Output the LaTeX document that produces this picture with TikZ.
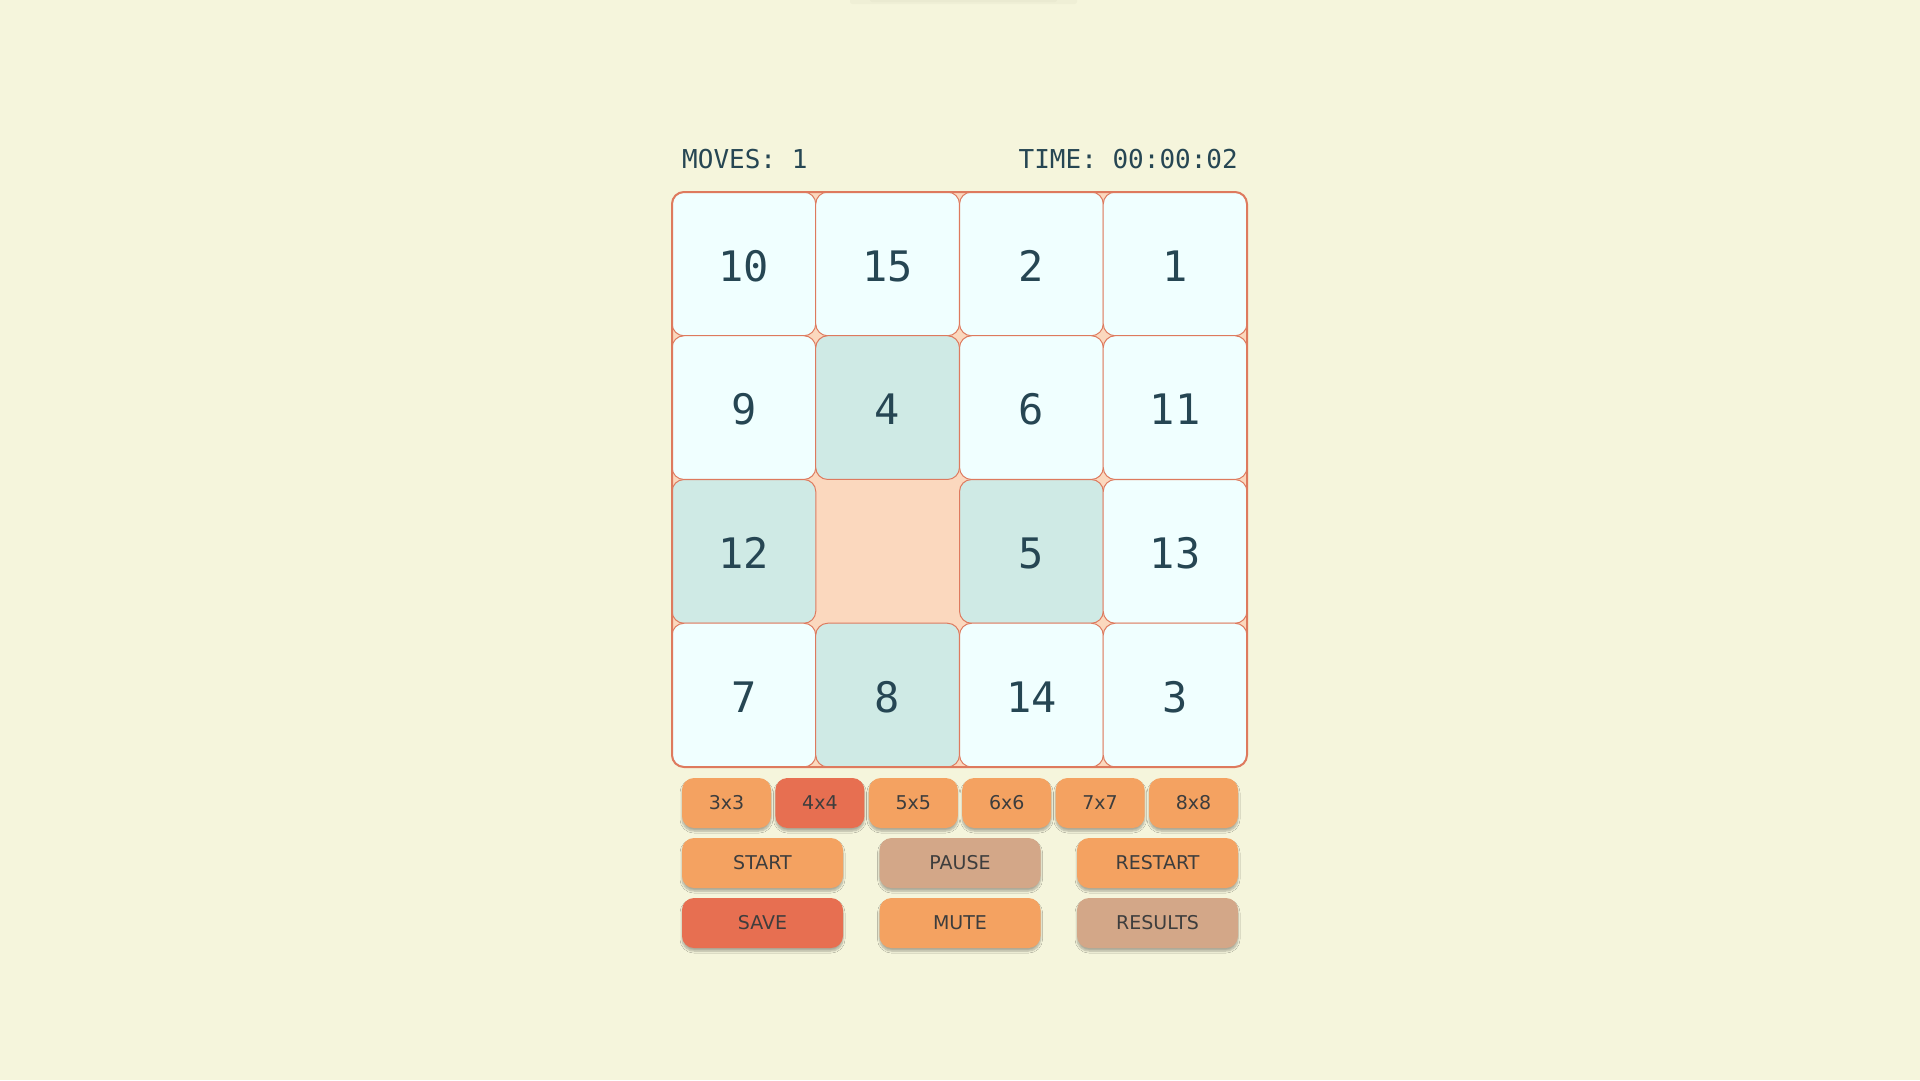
\documentclass[tikz,border=0pt]{standalone}
\usepackage{fontspec}
\usetikzlibrary{shadows.blur}
\newfontfamily\monof{DejaVu Sans Mono}
\newfontfamily\btnf{DejaVu Sans}
\definecolor{bg}{HTML}{F5F5DC}
\definecolor{ink}{HTML}{264653}
\definecolor{azure}{HTML}{F0FFFF}
\definecolor{tealt}{HTML}{CFEAE5}
\definecolor{peach}{HTML}{FBD8BE}
\definecolor{tileline}{HTML}{DE7A5E}
\definecolor{orng}{HTML}{F4A261}
\definecolor{redb}{HTML}{E76F51}
\definecolor{tanb}{HTML}{D3A788}
\definecolor{btntext}{HTML}{3D3D3D}
\tikzset{
  tile/.style={draw=tileline, line width=1pt, rounded corners=12pt,
    minimum width=143.75pt, minimum height=143.75pt, inner sep=0pt,
    text height=34.6pt, text depth=0pt,
    font=\monof\fontsize{42}{50}\selectfont, text=ink, fill=azure},
  oktile/.style={tile, fill=tealt},
  btn/.style={rounded corners=12pt, minimum height=50pt, inner sep=0pt,
    font=\btnf\fontsize{19}{22}\selectfont, text=btntext,
    blur shadow={shadow xshift=0pt, shadow yshift=-3pt, shadow blur radius=2pt, shadow opacity=30, shadow blur steps=6}},
  sizebtn/.style={btn, minimum width=89pt},
  bigbtn/.style={btn, minimum width=161pt},
  headtxt/.style={font=\monof\fontsize{26}{30}\selectfont, text=ink, inner sep=0pt}
}
\begin{document}
\begin{tikzpicture}[x=1pt,y=-1pt]
\useasboundingbox (0,0) rectangle (1920,1080);
\fill[bg] (0,0) rectangle (1920,1080);
% faint shade at top
\fill[black, opacity=0.025, rounded corners=2pt] (850,-3) rectangle (1077,4);
\fill[black, opacity=0.02, rounded corners=2pt] (870,-3) rectangle (1057,2);

% header
\node[headtxt, anchor=base west] (moves) at (682,168) {MOVES: 1};
\node[headtxt, anchor=base east] (time) at (1238,168) {TIME: 00:00:02};

% board
\node[fill=peach, rounded corners=12pt, minimum width=575pt, minimum height=575pt, inner sep=0pt] (board) at (959.5,479.5) {};

% tiles
\node[tile] (t10) at (743.9,263.9) {10};
\node[tile] (t15) at (887.6,263.9) {15};
\node[tile] (t2) at (1031.4,263.9) {2};
\node[tile] (t1) at (1175.1,263.9) {1};
\node[tile] (t9) at (743.9,407.6) {9};
\node[oktile] (t4) at (887.6,407.6) {4};
\node[tile] (t6) at (1031.4,407.6) {6};
\node[tile] (t11) at (1175.1,407.6) {11};
\node[oktile] (t12) at (743.9,551.4) {12};
\node[oktile] (t5) at (1031.4,551.4) {5};
\node[tile] (t13) at (1175.1,551.4) {13};
\node[tile] (t7) at (743.9,695.1) {7};
\node[oktile] (t8) at (887.6,695.1) {8};
\node[tile] (t14) at (1031.4,695.1) {14};
\node[tile] (t3) at (1175.1,695.1) {3};
\draw[tileline, line width=2pt, rounded corners=12pt] (672,192) rectangle (1247,767);

% size buttons
\node[sizebtn, fill=orng] (s3) at (726.5,803) {3x3};
\node[sizebtn, fill=redb] (s4) at (819.9,803) {4x4};
\node[sizebtn, fill=orng] (s5) at (913.3,803) {5x5};
\node[sizebtn, fill=orng] (s6) at (1006.7,803) {6x6};
\node[sizebtn, fill=orng] (s7) at (1100.1,803) {7x7};
\node[sizebtn, fill=orng] (s8) at (1193.5,803) {8x8};

% control buttons
\node[bigbtn, fill=orng] (start) at (762.5,863) {START};
\node[bigbtn, fill=tanb] (pause) at (960,863) {PAUSE};
\node[bigbtn, fill=orng] (restart) at (1157.5,863) {RESTART};
\node[bigbtn, fill=redb] (save) at (762.5,923) {SAVE};
\node[bigbtn, fill=orng] (mute) at (960,923) {MUTE};
\node[bigbtn, fill=tanb] (results) at (1157.5,923) {RESULTS};
\end{tikzpicture}
\end{document}
